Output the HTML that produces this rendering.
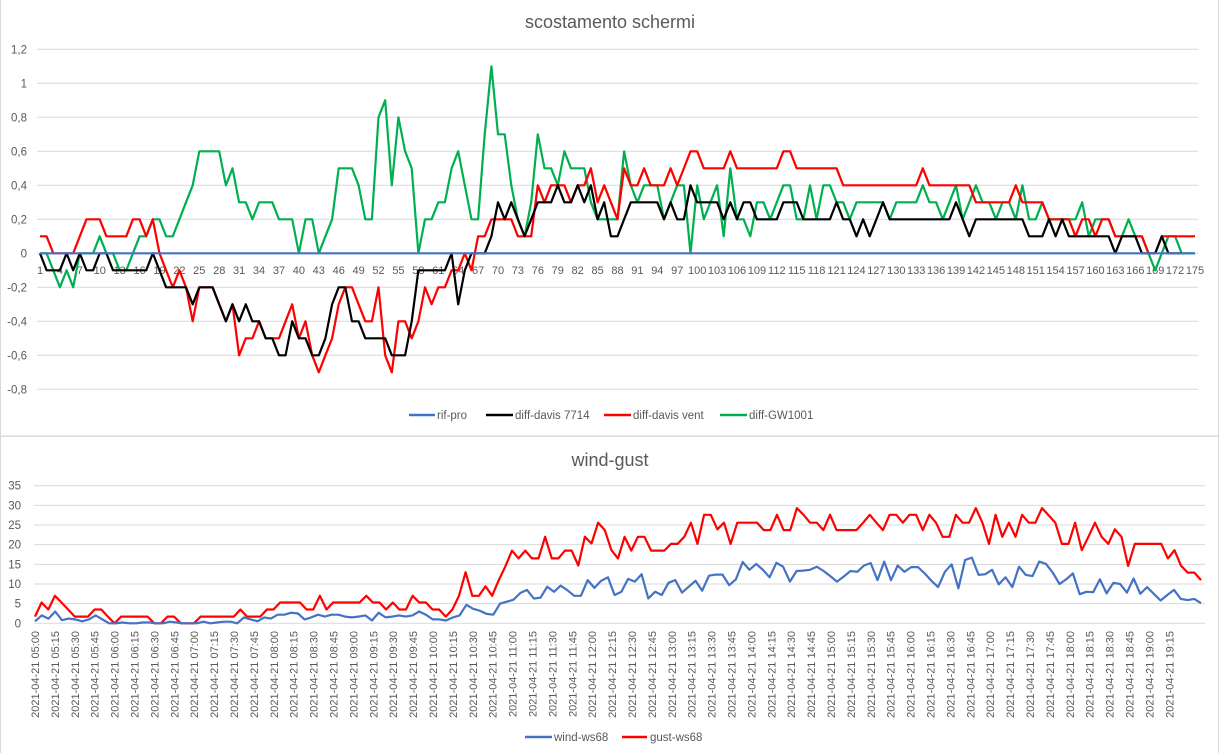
<!DOCTYPE html>
<html><head><meta charset="utf-8">
<style>
html,body{margin:0;padding:0;background:#fff;}
svg{display:block;font-family:"Liberation Sans",Arial,sans-serif;}
</style></head>
<body>
<svg id="s" width="1220" height="753" xmlns="http://www.w3.org/2000/svg">
<rect x="0.5" y="-1" width="1218" height="437" fill="none" stroke="#d9d9d9"/>
<rect x="0.5" y="436.5" width="1218" height="320" fill="none" stroke="#d9d9d9"/>
<text x="610" y="28" text-anchor="middle" font-size="18" fill="#595959">scostamento schermi</text>
<text x="610" y="466" text-anchor="middle" font-size="18" fill="#595959">wind-gust</text>
<g id="g"></g>
<g font-size="11.5" fill="#595959">
<line x1="409" y1="415" x2="435" y2="415" stroke="#4472c4" stroke-width="2.5"/><text x="437" y="419">rif-pro</text>
<line x1="486" y1="415" x2="513" y2="415" stroke="#000" stroke-width="2.5"/><text x="515" y="419">diff-davis 7714</text>
<line x1="604" y1="415" x2="631" y2="415" stroke="#ff0000" stroke-width="2.5"/><text x="633" y="419">diff-davis vent</text>
<line x1="720" y1="415" x2="747" y2="415" stroke="#00b050" stroke-width="2.5"/><text x="749" y="419">diff-GW1001</text>
<line x1="525" y1="737" x2="552" y2="737" stroke="#4472c4" stroke-width="2.5"/><text x="554" y="741">wind-ws68</text>
<line x1="622" y1="737" x2="647" y2="737" stroke="#ff0000" stroke-width="2.5"/><text x="650" y="741">gust-ws68</text>
</g>
</svg>
<script>
var NS="http://www.w3.org/2000/svg",g=document.getElementById("g");
function el(t,a,txt){var e=document.createElementNS(NS,t);for(var k in a)e.setAttribute(k,a[k]);if(txt!==undefined)e.textContent=txt;g.appendChild(e);return e;}
var y0=253.3,u=170;
for(var i=0;i<=10;i++){var v=1.2-0.2*i,y=y0-v*u;
 if(Math.abs(v)>1e-6)el("line",{x1:37,x2:1198,y1:y,y2:y,stroke:"#d9d9d9","stroke-width":1});
 var s=Math.abs(v)<1e-6?"0":(Math.abs(v-1)<1e-6?"1":v.toFixed(1).replace(".",","));
 el("text",{x:27,y:y+4,"text-anchor":"end","font-size":"11.5",fill:"#595959"},s);}
var G=[0,0,-.1,-.2,-.1,-.2,0,0,0,.1,0,0,-.1,-.1,0,.1,.1,.2,.2,.1,.1,.2,.3,.4,.6,.6,.6,.6,.4,.5,.3,.3,.2,.3,.3,.3,.2,.2,.2,0,.2,.2,0,.1,.2,.5,.5,.5,.4,.2,.2,.8,.9,.4,.8,.6,.5,0,
.2,.2,.3,.3,.5,.6,.4,.2,.2,.7,1.1,.7,.7,.4,.2,.1,.3,.7,.5,.5,.4,.6,.5,.5,.5,.3,.2,.2,.2,.2,.6,.4,.3,.4,.4,.4,.2,.3,.4,.4,0,.4,.2,.3,.4,.1,.5,.2,.2,.1,.3,.3,.2,.3,.4,.4,.2,.2,.4,
.2,.4,.4,.3,.3,.2,.3,.3,.3,.3,.3,.2,.3,.3,.3,.3,.4,.3,.3,.2,.3,.4,.2,.3,.4,.3,.3,.2,.3,.3,.2,.4,.2,.2,.3,.2,.2,.2,.2,.2,.3,.1,.2,.2,.2,.1,.1,.2,.1,.1,0,-.1,0,.1,.1,0,0,0];
var K=[0,-.1,-.1,-.1,0,-.1,0,-.1,-.1,0,0,-.1,-.1,-.1,-.1,-.1,-.1,0,-.1,-.2,-.2,-.2,-.2,-.3,-.2,-.2,-.2,-.3,-.4,-.3,-.4,-.3,-.4,-.4,-.5,-.5,-.6,-.6,-.4,-.5,-.5,-.6,-.6,-.5,-.3,-.2,-.2,-.4,-.4,-.5,-.5,-.5,-.5,-.6,-.6,-.6,-.4,-.1,
-.1,-.1,-.1,-.1,0,-.3,-.1,0,0,0,.1,.3,.2,.3,.2,.1,.2,.3,.3,.3,.4,.3,.3,.4,.3,.4,.2,.3,.1,.1,.2,.3,.3,.3,.3,.3,.2,.3,.2,.2,.4,.3,.3,.3,.3,.2,.3,.2,.3,.3,.2,.2,.2,.2,.3,.3,.3,.2,.2,.2,
.2,.2,.3,.2,.2,.1,.2,.1,.2,.3,.2,.2,.2,.2,.2,.2,.2,.2,.2,.2,.3,.2,.1,.2,.2,.2,.2,.2,.2,.2,.2,.1,.1,.1,.2,.1,.2,.1,.1,.1,.1,.1,.1,.1,0,.1,.1,.1,0,0,0,.1,0,0,0];
var R=[.1,.1,0,0,0,0,.1,.2,.2,.2,.1,.1,.1,.1,.2,.2,.1,.2,0,-.1,-.2,-.1,-.2,-.4,-.2,-.2,-.2,-.3,-.4,-.3,-.6,-.5,-.5,-.4,-.5,-.5,-.5,-.4,-.3,-.5,-.4,-.6,-.7,-.6,-.5,-.3,-.2,-.2,-.3,-.4,-.4,-.2,-.6,-.7,-.4,-.4,-.5,-.4,
-.2,-.3,-.2,-.2,-.1,-.1,0,-.1,.1,.1,.2,.2,.2,.2,.1,.1,.1,.4,.3,.4,.4,.4,.3,.4,.4,.5,.3,.4,.3,.2,.5,.4,.4,.5,.4,.4,.4,.5,.4,.5,.6,.6,.5,.5,.5,.5,.6];
function rep(a,v,n){for(var i=0;i<n;i++)a.push(v);}
rep(R,.5,7);rep(R,.6,2);rep(R,.5,7);rep(R,.4,12);R.push(.5);rep(R,.4,7);rep(R,.3,6);R.push(.4);rep(R,.3,4);rep(R,.2,4);
R.push(.1,.2,.2,.1,.2,.2);rep(R,.1,5);R.push(0,0);rep(R,.1,6);
var st=(1195-40)/174;
function tx(i){return 40+i*st;}
function line(arr,col,f,fy){var p=[];for(var i=0;i<arr.length;i++)p.push(f(i).toFixed(1)+","+fy(arr[i]).toFixed(1));
 el("polyline",{points:p.join(" "),fill:"none",stroke:col,"stroke-width":2.2,"stroke-linejoin":"round"});}
el("line",{x1:37,x2:1198,y1:y0,y2:y0,stroke:"#d9d9d9"});
for(var i=0;i<175;i+=3)el("text",{x:tx(i),y:274,"text-anchor":"middle","font-size":"11",fill:"#595959"},String(i+1));
var fy1=function(v){return y0-v*u;};
line(G,"#00b050",tx,fy1);
line(R,"#ff0000",tx,fy1);
line(K,"#000000",tx,fy1);
el("line",{x1:40,x2:1195,y1:y0,y2:y0,stroke:"#4472c4","stroke-width":2.2});
var b0=623.3,bu=(623.3-485.7)/35;
for(var i=0;i<=7;i++){var y=b0-5*i*bu;
 el("line",{x1:34,x2:1205,y1:y,y2:y,stroke:"#d9d9d9"});
 el("text",{x:21,y:y+4,"text-anchor":"end","font-size":"11.5",fill:"#595959"},String(5*i));}
var B=[0.5,2,1.2,3,0.8,1.2,1,0.5,1,2,1,0,0,0.2,0,0,0.2,0.2,0,0,0.4,0.2,0,0,0,0.4,0,0.2,0.4,0.4,0,1.5,1,0.5,1.5,1.2,2.2,2.2,2.7,2.5,1,1.5,2.2,1.7,2.2,2.2,1.7,1.5,1.7,2,0.7,2.7,1.5,1.7,2,1.7,2,3,2.2,1,1,0.7,1.5,2,4.7,3.7,3.2,2.4,2.2,5,5.5,6,7.7,8.5,6.3,6.5,9.3,8,9.6,8.4,7,7,11,9,10.8,11.7,
7.2,8,11.3,10.6,12.5,6.3,8,7.2,10.3,11,7.8,9.3,10.8,8.3,12.1,12.4,12.4,9.7,11.2,15.6,13.6,15.1,13.6,11.7,15.4,14.4,10.6,13.3,13.4,13.6,14.4,13.3,12,10.6,11.9,13.3,13.1,14.7,15.3,11,15.7,11,14.7,13.1,14.3,14.3,12.7,10.8,9.2,13.1,15,8.9,16.1,16.7,12.3,12.5,13.6,9.9,11.7,9.2,14.4,12.3,12,15.7,15.1,12.9,10,11.2,12.7,7.4,8,7.9,11.2,7.6,10.3,10,7.8,11.4,7.5,9.2,7.5,5.8,7.2,8.5,6.2,5.9,6.2,5.1];
var RG=[1.7,5.3,3.5,7,5.3,3.5,1.7,1.7,1.7,3.5,3.5,1.7,0,1.7,1.7,1.7,1.7,1.7,0,0,1.7,1.7,0,0,0,1.7,1.7,1.7,1.7,1.7,1.7,3.5,1.7,1.7,1.7,3.5,3.5,5.3,5.3,5.3,5.3,3.5,3.5,7,3.5,5.3,5.3,5.3,5.3,5.3,7,5.3,5.3,3.5,5.3,3.5,3.5,7,5.3,5.3,3.5,3.5,1.7,3.5,7,13,7,7,9.4,7,11,14.5,18.5,16.5,18.5,16.5,16.5,22,16.5,16.5,18.5,18.5,14.7,22,20.3,
25.6,23.7,18.6,16.5,22,18.5,22,22,18.5,18.5,18.5,20.2,20.2,22,25.6,20.2,27.6,27.6,23.9,25.6,20.2,25.6,25.6,25.6,25.6,23.7,23.7,27.6,23.7,23.7,29.3,27.6,25.6,25.6,23.7,27.6,23.7,23.7,23.7,23.7,25.6,27.6,25.6,23.7,27.6,27.6,25.6,27.6,27.6,23.7,27.6,25.6,22,22,27.6,25.6,25.6,29.3,25.6,20.2,27.6,22,25.6,22,27.6,25.6,25.6,29.3,27.5,25.6,20.2,20.2,25.6,18.6,22,25.6,22,20.2,23.9,22,14.6,20.2,20.2,20.2,20.2,20.2,16.5,18.6,14.6,12.9,12.9,11];
var fy2=function(v){return b0-v*bu;};
function fx(n){var s=(1201-35)/(n-1);return function(i){return 35+i*s;};}
line(RG,"#ff0000",fx(RG.length),fy2);
line(B,"#4472c4",fx(B.length),fy2);
var ls=19.9;
for(var k=0;k<58;k++){var m=300+15*k,h=Math.floor(m/60),mm=m%60;
 var lab="2021-04-21 "+(h<10?"0":"")+h+":"+(mm<10?"0":"")+mm;
 var x=35+k*ls+4;
 el("text",{x:x,y:631,"text-anchor":"end","font-size":"11",fill:"#595959",transform:"rotate(-90 "+x+" 631)"},lab);}
</script>
</body></html>
